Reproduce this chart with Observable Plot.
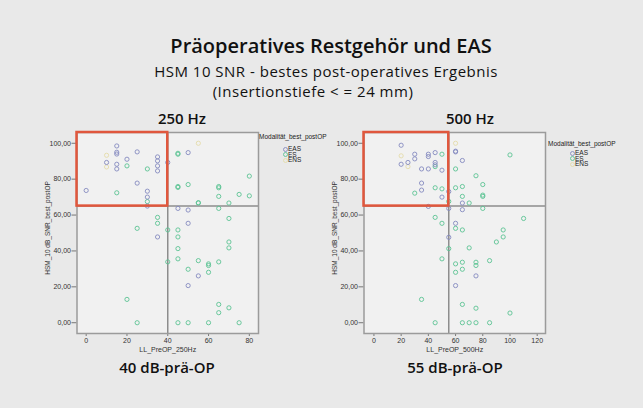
<!DOCTYPE html>
<html><head><meta charset="utf-8">
<script src="https://cdn.jsdelivr.net/npm/d3@7"></script>
<script src="https://cdn.jsdelivr.net/npm/@observablehq/plot@0.6"></script>
<style>
body{margin:0;background:#e9e9e9;}
#page{position:relative;width:643px;height:408px;background:#e9e9e9;overflow:hidden;font-family:"Open Sans","Noto Sans",sans-serif;color:#111;}
.t{position:absolute;white-space:nowrap;text-align:center;transform:translateX(-50%);line-height:1.15;}
.panel{position:absolute;}
.leg{position:absolute;font-family:"Liberation Sans Narrow","Liberation Sans",sans-serif;font-size:6.5px;color:#222;line-height:1;}
</style></head>
<body><div id="page"></div>
<script>
// ---- data ----
const titleText = "Präoperatives Restgehör und EAS";
const subtitle1 = "HSM 10 SNR - bestes post-operatives Ergebnis";
const subtitle2 = "(Insertionstiefe < = 24 mm)";
const freqLabels = ["250 Hz", "500 Hz"];
const thresholdLabels = ["40 dB-prä-OP", "55 dB-prä-OP"];
const xLabels = ["LL_PreOP_250Hz", "LL_PreOP_500Hz"];
const yLabel = "HSM_10 dB_SNR_best_postOP";
const legendTitle = "Modalität_best_postOP";
const modalities = ["EAS", "ES", "ENS"];
const thresholdsX = [40, 55];
const thresholdY = 65;
const xTicks250 = [0, 20, 40, 60, 80];
const xTicks500 = [0, 20, 40, 60, 80, 100, 120];
const yTicks = [0, 20, 40, 60, 80, 100];

const eas250 = [[0,73.7],[10,89.3],[15,98.5],[15,95],[15,94],[15,88.3],[15,85.7],[20,91.1],[25,95.2],[25,77.8],[30,73.3],[30,70],[30,65],[35,92.4],[35,90.2],[35,87.4],[35,84.6],[40,89.3],[50,94.8],[45,63.7],[50,62.8],[50,55.4],[35,47.8],[55,26.1],[50,20.7]];
const es250 = [[20,87.4],[15,72.4],[30,85.7],[30,67.5],[45,93.9],[45,94.4],[45,75.4],[45,75.9],[50,77],[65,75.9],[65,75.2],[65,70.4],[55,66.7],[55,66.9],[70,66.7],[75,71.5],[80,70.7],[80,81.7],[65,63.7],[70,58.1],[35,58.7],[35,55.4],[25,52.6],[40,51.7],[45,51.7],[45,47.8],[45,41.3],[70,45],[70,41.7],[40,33.9],[45,35.6],[55,34.6],[60,32.8],[60,31.9],[60,28.1],[65,33.9],[50,29.8],[20,13],[65,10.2],[65,5.6],[70,8.3],[25,0],[45,0],[50,0],[60,0],[75,0]];
const ens250 = [[10,93.3],[10,86.8],[55,100]];

const eas500 = [[20,98.9],[20,88.3],[25,89.3],[30,93.9],[30,91.3],[35,85.7],[35,77.8],[35,73.9],[40,93.9],[40,92.6],[40,85.7],[40,64.8],[45,94.8],[45,89.3],[45,88],[50,85],[50,70],[55,73.1],[55,63.7],[55,47.6],[60,95.2],[60,95.6],[65,90.4],[65,66.7],[65,63],[60,55.4],[60,20.7],[75,26.1]];
const es500 = [[50,93.9],[45,87],[45,75.2],[30,72.2],[50,74.6],[55,67.6],[60,85.7],[60,75.2],[65,75.9],[65,70.4],[70,66.7],[75,81.9],[80,77],[80,71.1],[80,70.4],[80,63.7],[100,93.5],[110,58.1],[45,58.7],[50,55.4],[60,52.6],[65,51.7],[95,51.7],[95,47.8],[90,45],[70,41.7],[55,41.3],[50,35.6],[60,32.8],[60,28.1],[65,33.7],[65,29.8],[75,33.7],[75,31.9],[85,34.6],[35,13],[65,10.2],[75,8.1],[100,5.4],[45,0],[65,0],[70,0],[75,0],[85,0]];
const ens500 = [[20,93],[25,87],[60,100]];

// ---- styling ----
const colors = {EAS:"#858bc0", ES:"#5cc393", ENS:"#e4dcaa"};
const page = document.getElementById("page");

function addText(txt, x, y, size, weight, spacing){
  const d = document.createElement("div");
  d.className = "t";
  d.textContent = txt;
  d.style.left = x + "px";
  d.style.top = y + "px";
  d.style.fontSize = size + "px";
  d.style.fontWeight = weight;
  if (spacing) d.style.letterSpacing = spacing + "px";
  page.appendChild(d);
}
addText(titleText, 331, 34, 20, 600);
addText(subtitle1, 326, 62.5, 15, 400, 0.5);
addText(subtitle2, 313, 83, 15, 400, 0.5);
addText(freqLabels[0], 182, 110, 15, 600);
addText(freqLabels[1], 470, 110, 15, 600);
addText(thresholdLabels[0], 167, 359, 15, 600);
addText(thresholdLabels[1], 455, 359, 15, 600);

function panel(left, xDomain, xTicks, eas, es, ens, thr, xLabel){
  const rows = [
    ...eas.map(([x,y]) => ({x, y, m:"EAS"})),
    ...es.map(([x,y]) => ({x, y, m:"ES"})),
    ...ens.map(([x,y]) => ({x, y, m:"ENS"}))
  ].reverse();
  const yDomain = [-6, 106];
  const fmt = d3.format(".2f");
  const chart = Plot.plot({
    width: 221, height: 232,
    marginLeft: 36.5, marginRight: 3, marginTop: 4, marginBottom: 27,
    style: {background: "transparent", fontFamily: "'Liberation Sans Narrow','Liberation Sans',sans-serif", fontSize: "7px", color: "#333"},
    x: {domain: xDomain, ticks: xTicks},
    y: {domain: yDomain, ticks: yTicks},
    color: {domain: modalities, range: modalities.map(m => colors[m])},
    marks: [
      Plot.frame({fill: "#f1f1f1"}),
      Plot.axisX({ticks: xTicks, tickSize: 3, tickPadding: 2, label: xLabel, labelAnchor: "center", labelArrow: "none", labelOffset: 18, stroke: "#777"}),
      Plot.axisY({ticks: yTicks, tickSize: 5, tickPadding: 1, tickFormat: d => fmt(d).replace(".", ","), label: null, stroke: "#777"}),
      Plot.text([yLabel], {frameAnchor: "left", textAnchor: "middle", rotate: -90, dx: -29, dy: -5, fontSize: 6.5, fill: "#333"}),
      Plot.ruleX([thr], {y1: yDomain[0], y2: yDomain[1], stroke: "#8d8d8d", strokeWidth: 1.5}),
      Plot.ruleY([thresholdY], {x1: xDomain[0], x2: xDomain[1], stroke: "#8d8d8d", strokeWidth: 1.5}),
      Plot.dot(rows, {x: "x", y: "y", stroke: "m", r: 2.1, strokeWidth: 1, fill: "none", strokeOpacity: 0.9}),
      Plot.frame({stroke: "#9b9b9b", strokeWidth: 1.5}),
      Plot.rect([{x1: xDomain[0], x2: thr, y1: thresholdY, y2: yDomain[1]}], {x1: "x1", x2: "x2", y1: "y1", y2: "y2", fill: "none", stroke: "#e0573d", strokeWidth: 2.5})
    ]
  });
  const wrap = document.createElement("div");
  wrap.className = "panel";
  wrap.style.left = left + "px";
  wrap.style.top = "128px";
  wrap.appendChild(chart);
  page.appendChild(wrap);
}
panel(40, [-4.5, 84.5], xTicks250, eas250, es250, ens250, thresholdsX[0], xLabels[0]);
panel(327, [-7.3, 126.1], xTicks500, eas500, es500, ens500, thresholdsX[1], xLabels[1]);

function legend(left, top, titleTop, itemLeft){
  const t = document.createElement("div");
  t.className = "leg";
  t.style.left = left + "px"; t.style.top = titleTop + "px";
  t.textContent = legendTitle;
  page.appendChild(t);
  modalities.forEach((m, i) => {
    const d = document.createElement("div");
    d.className = "leg";
    d.style.left = (itemLeft - 4) + "px";
    d.style.top = (top + i * 5.5) + "px";
    d.innerHTML = `<svg width="5" height="5" style="vertical-align:middle;margin-right:0px"><circle cx="2.5" cy="2.5" r="2" fill="none" stroke="${colors[m]}" stroke-width="0.9"/></svg>${m}`;
    page.appendChild(d);
  });
}
legend(259, 146, 134, 287);
legend(548, 150, 141, 574);
</script></body></html>
